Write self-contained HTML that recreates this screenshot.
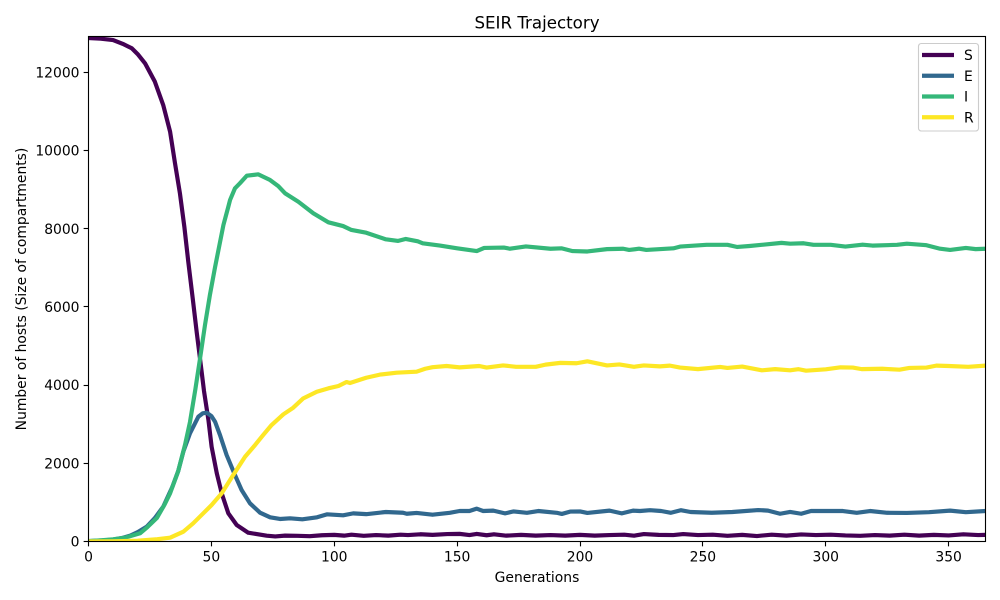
<!DOCTYPE html>
<html>
<head>
<meta charset="utf-8">
<title>SEIR Trajectory</title>
<style>
html,body{margin:0;padding:0;background:#fff;width:1000px;height:600px;overflow:hidden}
svg{display:block}
text{font-family:"DejaVu Sans","Liberation Sans",sans-serif;fill:#000}
</style>
</head>
<body>
<svg id="chart" xmlns="http://www.w3.org/2000/svg" width="1000" height="600" viewBox="0 0 1000 600">
<defs><clipPath id="plot-clip"><rect x="88.5" y="36.5" width="897" height="505"/></clipPath></defs>
<rect width="1000" height="600" fill="#fff"/>
<text x="537" y="28.5" font-size="16.67" text-anchor="middle">SEIR Trajectory</text>
<text x="537" y="582" font-size="13.89" text-anchor="middle">Generations</text>
<text transform="translate(26 289) rotate(-90)" font-size="13.89" text-anchor="middle">Number of hosts (Size of compartments)</text>
<g id="series-layer" clip-path="url(#plot-clip)"></g>
<g id="axis-layer"></g>
<g id="legend-layer"></g>
</svg>
<script>
const xTicks = [0, 50, 100, 150, 200, 250, 300, 350];
const yTicks = [0, 2000, 4000, 6000, 8000, 10000, 12000];
const xDomain = [0, 365];
const yDomain = [0, 12920];
const seriesNames = ['S', 'E', 'I', 'R'];
const seriesColors = ['#440154', '#31688e', '#35b779', '#fde725'];

const sGenerations = [0,5,10,14,17.6,20,23,27,30.4,33.2,35.2,37.2,39,40.6,42.4,44,45.7,47,48.8,50.1,52.2,54.2,56.9,60.3,65,72.5,76,80,85,90,95,100,104,107,112,117,122,127,130,135,140,146,151,155,158,162,165,170,176,182,188,194,200,206,212,218,222,226,232,238,242,248,254,260,266,272,278,284,290,296,302,308,314,320,326,332,338,344,350,356,362,365];
const sValues = [12880,12865,12830,12730,12620,12470,12235,11765,11167,10485,9675,8908,8054,7158,6222,5368,4516,3850,3108,2425,1745,1233,721,422,225,148,130,150,145,135,160,170,150,175,145,165,150,175,165,185,170,190,195,165,195,160,185,150,170,150,165,150,170,150,165,175,150,190,170,165,190,165,175,145,170,140,175,150,180,165,175,155,145,165,150,175,150,170,155,185,165,170];

const eGenerations = [0,5,10,14,17,20,23.7,27,30.4,34,36.5,38.6,41.3,44.7,46.5,48.1,50,51.5,53.5,56.2,59.6,62.3,65.7,69.8,73.9,77.9,82,87,93,97,103.6,107.7,113,121,128,129.5,133.5,140,147,151,155,158,160.6,164.7,169.5,173,178.4,183,190.5,192.6,196,200,203,212,217,221.6,224.4,228.5,233,237,241,245,253.6,262,272.5,276.5,281.4,285.5,290,294,307,312.6,318,325,333,342,350.6,357,365];
const eValues = [10,25,50,95,150,240,380,600,890,1380,1800,2300,2768,3193,3280,3295,3210,3065,2725,2213,1701,1318,977,737,619,576,594,568,620,695,670,720,700,755,735,710,730,685,735,780,780,840,780,790,720,770,735,780,735,705,765,770,730,790,720,790,780,800,780,735,800,755,735,755,805,790,710,755,710,780,780,735,780,735,730,750,790,750,780];

const iGenerations = [0,5,10,15,21,24,27.8,31,33.2,36.5,39.3,41.3,43.5,45.4,47.4,49.4,51.5,54.9,56.9,57.6,59.6,61.6,64.4,69.1,73.9,77.2,80,85.4,91.5,97.6,103.6,107,113,121,126,129,134,136,143,150,158,161,169,171.5,178,188,192.6,197,203,211,217.6,220,224,227,238,240.7,251.5,260,264,269,282,285.5,291,295,302,308,315,319,329,333,341,346.5,350.6,357,361,365];
const iValues = [10,30,55,100,210,370,600,950,1233,1800,2480,3060,3900,4687,5539,6306,7020,8097,8565,8737,9036,9164,9358,9394,9248,9095,8908,8693,8396,8166,8070,7970,7900,7730,7690,7740,7680,7630,7570,7500,7430,7510,7520,7490,7550,7490,7500,7430,7420,7480,7490,7460,7490,7460,7500,7545,7590,7590,7535,7560,7640,7620,7630,7590,7590,7545,7595,7570,7590,7620,7580,7490,7460,7510,7480,7490];

const rGenerations = [0,10,20,24,28,33.2,38.6,42.6,46.7,50.1,54.2,58.9,63.7,67.8,71.1,74.5,79.3,83.3,87.4,92.9,97.6,101.7,105,106.4,113,118.6,125.4,133.5,137,140,145.7,151,159,162,168.7,174,182,186,192,198.6,203,211,216,222,226,232.5,236.6,240.7,248,257,260,266,274,279.4,285.5,288.8,292,300,306,311,314.6,323,330,334,341,345,350,358,365];
const rValues = [0,5,20,40,60,97,251,465,721,933,1233,1701,2169,2469,2725,2980,3254,3423,3663,3832,3919,3978,4080,4055,4190,4270,4320,4345,4420,4460,4490,4455,4490,4450,4505,4470,4470,4525,4570,4560,4610,4505,4530,4470,4505,4480,4500,4450,4410,4465,4440,4475,4380,4410,4380,4410,4370,4405,4455,4450,4410,4420,4395,4440,4450,4500,4490,4470,4500];

const allGenerations = [sGenerations, eGenerations, iGenerations, rGenerations];
const allValues = [sValues, eValues, iValues, rValues];

const NS = 'http://www.w3.org/2000/svg';
const plot = { left: 88.5, right: 985.5, top: 36.5, bottom: 541.5 };

function xScale(v) {
  return plot.left + (v - xDomain[0]) / (xDomain[1] - xDomain[0]) * (plot.right - plot.left);
}
function yScale(v) {
  return plot.bottom - (v - yDomain[0]) / (yDomain[1] - yDomain[0]) * (plot.bottom - plot.top);
}
function svgEl(tag, attrs, parent) {
  const el = document.createElementNS(NS, tag);
  for (const k in attrs) el.setAttribute(k, attrs[k]);
  parent.appendChild(el);
  return el;
}

const seriesLayer = document.getElementById('series-layer');
const axisLayer = document.getElementById('axis-layer');
const legendLayer = document.getElementById('legend-layer');

seriesNames.forEach(function (name, i) {
  const gens = allGenerations[i];
  const vals = allValues[i];
  const d = gens.map(function (g, j) {
    return (j ? 'L' : 'M') + xScale(g).toFixed(2) + ' ' + yScale(vals[j]).toFixed(2);
  }).join('');
  const line = svgEl('path', { d: d, fill: 'none', stroke: seriesColors[i], 'stroke-width': 4.17, 'stroke-linejoin': 'round', 'stroke-linecap': 'square' }, seriesLayer);
  
  
});

xTicks.forEach(function (t) {
  const x = Math.round(xScale(t) - 0.5) + 0.5;
  const tick = svgEl('line', { x1: x, x2: x, y1: plot.bottom, y2: plot.bottom + 4.86, stroke: '#000', 'stroke-width': 1.11 }, axisLayer);
  
  
  const label = svgEl('text', { x: xScale(t), y: 561.5, 'font-size': 13.89, 'text-anchor': 'middle' }, axisLayer);
  label.textContent = t;
  
  
});

yTicks.forEach(function (t) {
  const y = Math.round(yScale(t) - 0.5) + 0.5;
  const tick = svgEl('line', { x1: plot.left - 4.86, x2: plot.left, y1: y, y2: y, stroke: '#000', 'stroke-width': 1.11 }, axisLayer);
  
  
  const label = svgEl('text', { x: 79.5, y: yScale(t) + 5, 'font-size': 13.89, 'text-anchor': 'end' }, axisLayer);
  label.textContent = t;
  
  
});

const frame = svgEl('rect', { x: plot.left, y: plot.top, width: plot.right - plot.left, height: plot.bottom - plot.top, fill: 'none', stroke: '#000', 'stroke-width': 1.11 }, axisLayer);



const legendBox = svgEl('rect', { x: 918.5, y: 43.5, width: 60, height: 87.5, rx: 2.8, ry: 2.8, fill: '#fff', 'fill-opacity': 0.8, stroke: '#ccc', 'stroke-width': 1.11 }, legendLayer);



seriesNames.forEach(function (name, i) {
  const y = 55 + i * 20.75;
  const swatch = svgEl('line', { x1: 922, x2: 954, y1: y, y2: y, stroke: seriesColors[i], 'stroke-width': 4.17 }, legendLayer);
  
  
  const label = svgEl('text', { x: 964, y: y + 5, 'font-size': 13.89 }, legendLayer);
  label.textContent = name;
  
  
});
</script>
</body>
</html>
